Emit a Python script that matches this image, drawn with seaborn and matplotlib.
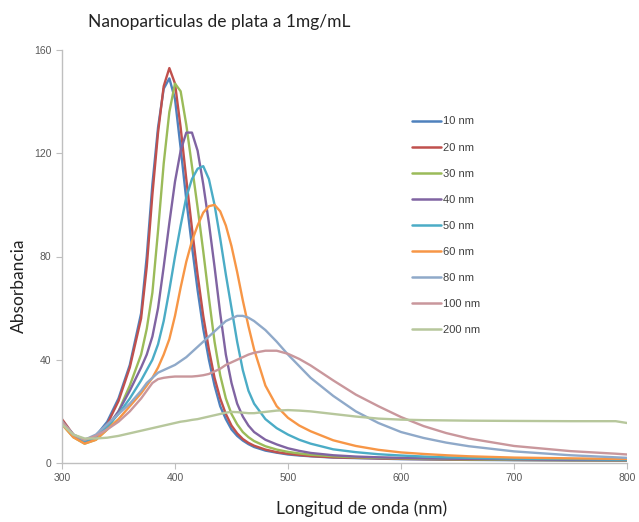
import numpy as np
import pandas as pd
import matplotlib
matplotlib.use("Agg")
import matplotlib.pyplot as plt
import seaborn as sns

wavelength = [300, 310, 320, 330, 340, 350, 360, 370, 375, 380, 385, 390, 395, 400, 405, 410,
              415, 420, 425, 430, 435, 440, 445, 450, 455, 460, 465, 470, 480, 490, 500, 510,
              520, 540, 560, 580, 600, 620, 640, 660, 700, 750, 790, 800]

nm10 = [16, 10.5, 8.5, 10.5, 16, 25, 38, 58, 80, 108, 130, 145, 149, 141, 122, 102,
        84, 67, 52, 40, 30, 22, 17, 13, 10.5, 8.7, 7.3, 6.2, 4.8, 4, 3.3, 2.9,
        2.6, 2.1, 1.9, 1.7, 1.5, 1.4, 1.3, 1.2, 1.1, 1, 1, 1]
nm20 = [17, 11, 8, 10, 15, 24, 37, 56, 76, 104, 128, 146, 153, 147, 130, 110,
        91, 73, 57, 44, 33, 25, 19, 14.5, 11.5, 9.3, 7.8, 6.7, 5.2, 4.2, 3.6, 3.1,
        2.7, 2.2, 2, 1.8, 1.6, 1.5, 1.4, 1.3, 1.2, 1.1, 1, 1]
nm30 = [15, 10, 7.5, 9, 13, 20, 30, 42, 52, 66, 90, 116, 136, 147, 144, 131,
        115, 99, 82, 64, 47, 34, 25, 19, 15, 12, 10, 8.5, 6.5, 5.2, 4.3, 3.7,
        3.2, 2.6, 2.2, 2, 1.8, 1.6, 1.5, 1.4, 1.2, 1.1, 1, 1]
nm40 = [16, 11, 8, 10, 14, 20, 28, 37, 42, 49, 60, 76, 93, 109, 121, 128,
        128, 121, 108, 93, 76, 58, 42, 31, 23, 18, 14.5, 12, 9, 7.2, 5.7, 4.7,
        3.9, 3, 2.5, 2.2, 2, 1.8, 1.7, 1.6, 1.4, 1.2, 1.1, 1.1]
nm50 = [16, 11, 8.5, 10, 14, 19, 25, 32, 36, 40, 46, 55, 67, 80, 92, 103,
        110, 114, 115, 110, 100, 87, 73, 60, 47, 36, 28, 23, 17, 13.5, 11, 9,
        7.5, 5.3, 4.2, 3.4, 2.9, 2.5, 2.2, 2, 1.7, 1.5, 1.3, 1.3]
nm60 = [15, 10, 7.5, 9, 13, 17, 22, 27, 30, 33, 37, 42, 48, 57, 68, 78,
        86, 92, 97, 99.5, 100, 97.5, 92, 84, 74, 63, 53, 44, 30, 22, 17.5, 14.5,
        12.3, 8.8, 6.6, 5.1, 4.1, 3.5, 3, 2.6, 2.1, 1.8, 1.6, 1.6]
nm80 = [16, 11, 9, 11, 15, 19, 23, 28, 31, 33, 35, 36, 37, 38, 39.5, 41,
        43, 45, 47, 49, 51, 53, 55, 56, 57, 57, 56.3, 55, 51.5, 47, 42, 37.5,
        33, 26, 20, 15.5, 12, 9.7, 7.9, 6.5, 4.5, 3, 2.2, 2]
nm100 = [16, 11, 9, 10.5, 13, 16, 20, 25, 28, 31, 32.5, 33, 33.3, 33.5, 33.5, 33.5,
         33.5, 33.7, 34, 34.5, 35.5, 36.5, 38, 39, 40, 41, 42, 42.7, 43.5, 43.5, 42.3, 40.3,
         37.8, 32, 26.5, 22, 17.8, 14.3, 11.6, 9.5, 6.6, 4.6, 3.6, 3.3]
nm200 = [15, 11, 9.5, 9.5, 9.8, 10.5, 11.5, 12.5, 13, 13.5, 14, 14.5, 15, 15.5, 16, 16.3,
         16.7, 17, 17.5, 18, 18.5, 19, 19.5, 19.8, 19.7, 19.5, 19.3, 19.3, 19.8, 20.3, 20.5, 20.3,
         20, 19, 18, 17.2, 16.8, 16.6, 16.5, 16.4, 16.3, 16.2, 16.2, 15.5]

labels = ["10 nm", "20 nm", "30 nm", "40 nm", "50 nm", "60 nm", "80 nm", "100 nm", "200 nm"]
series = [nm10, nm20, nm30, nm40, nm50, nm60, nm80, nm100, nm200]
colors = ["#4F81BD", "#C0504D", "#9BBB59", "#8064A2", "#4BACC6", "#F79646",
          "#8FA9C9", "#C9979C", "#B7C79C"]

frames = []
for lab, vals in zip(labels, series):
    frames.append(pd.DataFrame({"wl": wavelength, "abs": vals, "size": lab}))
df = pd.concat(frames, ignore_index=True)

sns.set_theme(style="white")
plt.rcParams['font.family'] = ['Liberation Sans', 'DejaVu Sans']

fig = plt.figure(figsize=(6.39, 5.22), dpi=100)
ax = fig.add_axes([62/639, 1-463/522, (627-62)/639, (463-50)/522])

sns.lineplot(data=df, x="wl", y="abs", hue="size", hue_order=labels,
             palette=dict(zip(labels, colors)), linewidth=1.7, ax=ax, legend=True)

ax.set_xlim(300, 800)
ax.set_ylim(0, 160)
ax.set_xticks([300, 400, 500, 600, 700, 800])
ax.set_yticks([0, 40, 80, 120, 160])
for s in ["top", "right"]:
    ax.spines[s].set_visible(False)
for s in ["left", "bottom"]:
    ax.spines[s].set_color("#BFBFBF")
    ax.spines[s].set_linewidth(1.0)
ax.tick_params(axis="both", which="both", length=4, width=0.8, color="#BFBFBF",
               labelsize=7.5, labelcolor="#595959", direction="out",
               left=True, bottom=True)

lab_font = dict(family=["Lato", "DejaVu Sans"], size=12.5, color="#222222")
ax.set_xlabel("Longitud de onda (nm)", **lab_font)
ax.set_ylabel("Absorbancia", **lab_font)
ax.xaxis.set_label_coords(0.53, -0.09)
ax.yaxis.set_label_coords(-0.062, 0.43)

fig.text(88/639, 1-22/522, "Nanoparticulas de plata a 1mg/mL", ha="left", va="center",
         family=["Lato", "DejaVu Sans"], size=12.5, color="#222222")

leg = ax.legend(loc="upper left", bbox_to_anchor=((408-62)/565, (463-112)/413),
                frameon=False, fontsize=8, handlelength=2.6, handletextpad=0.15,
                labelspacing=1.45, borderaxespad=0)
for t in leg.get_texts():
    t.set_color("#404040")
for h in leg.get_lines():
    h.set_linewidth(1.8)

fig.savefig("out.png", dpi=100)
